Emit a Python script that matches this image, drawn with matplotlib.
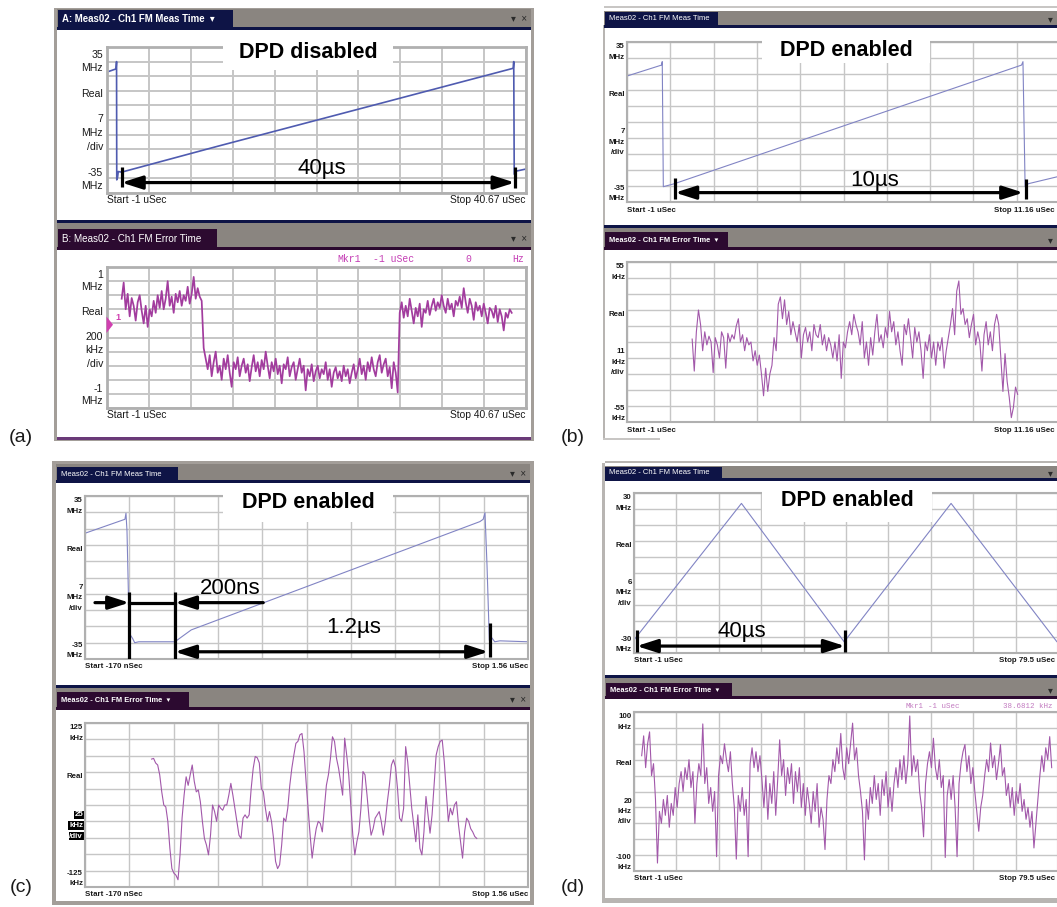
import matplotlib.pyplot as plt
import numpy as np
from matplotlib.patches import Rectangle, Polygon

plt.rcParams['font.family'] = ['Liberation Sans', 'DejaVu Sans']

W, H = 1057, 907

# ---------------- values ----------------
# (a) DPD disabled : FM meas (MHz) and FM error (MHz) vs time (us)
a_meas_t = [-1.0, -0.1, -0.05, -0.03, 0.05, 0.12, 0.45, 10.0, 27.0, 39.4, 39.45, 39.5, 39.7, 40.67]
a_meas_f = [23.0, 24.5, 28.0, -28.7, -27.5, -24.7, -25.0, -12.6, 9.0, 24.8, 28.0, -26.0, -24.5, -23.5]
a_err_start, a_err_stop = 0.46, 39.25
a_err_f = [0.55, 0.78, 0.40, 0.62, 0.30, 0.56, 0.45, 0.24, 0.50, 0.60,
           0.38, 0.20, 0.45, 0.15, 0.40, 0.30, 0.52, 0.35, 0.60, 0.42,
           0.66, 0.40, 0.55, 0.80, 0.45, 0.58, 0.35, 0.62, 0.50, 0.66,
           0.45, 0.60, 0.52, 0.72, 0.48, 0.62, 0.86, 0.55, 0.70, 0.58, 0.52,
           -0.15, -0.30, -0.45, -0.25, -0.55, -0.35, -0.20, -0.50, -0.40, -0.60,
           -0.30, -0.45, -0.25, -0.50, -0.70, -0.35, -0.45, -0.28, -0.55, -0.40,
           -0.30, -0.50, -0.38, -0.62, -0.42, -0.25, -0.48, -0.35, -0.55, -0.32,
           -0.45, -0.20, -0.40, -0.58, -0.35, -0.48, -0.30, -0.52, -0.40, -0.65,
           -0.38, -0.45, -0.28, -0.55, -0.42, -0.35, -0.60, -0.45, -0.30, -0.50,
           -0.40, -0.75, -0.45, -0.55, -0.38, -0.62, -0.48, -0.40, -0.58, -0.45,
           -0.52, -0.35, -0.60, -0.45, -0.70, -0.50, -0.42, -0.58, -0.48, -0.62,
           -0.40, -0.55, -0.45, -0.65, -0.50, -0.38, -0.58, -0.46, -0.30, -0.52,
           -0.40, -0.60, -0.35, -0.48, -0.28, -0.45, -0.55, -0.35, -0.25, -0.50,
           -0.38, -0.30, -0.55, -0.42, -0.72, -0.35, -0.50, -0.78,
           0.35, 0.50, 0.28, 0.45, 0.30, 0.55, 0.38, 0.20, 0.42, 0.30,
           0.48, 0.15, 0.40, 0.35, 0.52, 0.32, 0.45, 0.55, 0.38, 0.50,
           0.42, 0.60, 0.45, 0.35, 0.55, 0.40, 0.48, 0.30, 0.52, 0.45,
           0.58, 0.42, 0.70, 0.50, 0.35, 0.55, 0.45, 0.25, 0.50, 0.38,
           0.45, 0.30, 0.48, 0.35, 0.20, 0.42, 0.38, 0.28, 0.45, 0.22,
           0.40, 0.30, 0.10, 0.35, 0.28, 0.40, 0.35]

# (b) DPD enabled, 10 us ramp : MHz / kHz
b_meas_t = [-1.0, -0.03, -0.01, 0.02, 0.33, 10.08, 10.12, 10.18, 10.27, 11.1]
b_meas_f = [20.1, 24.9, 26.4, -28.3, -27.0, 24.9, 26.4, -28.3, -27.0, -23.9]
b_err_start, b_err_stop = 0.83, 9.97
b_err_f = [2, -20, 7, 22, 12, -6, 7, -2, 4, 0, -21, 3, -2, -11, 7, 3, -18, 6, 0, 5,
           2, 11, 16, 0, 5, -6, 3, -2, 0, -13, -6, -16, -9, -22, -37, -18, -34, -22, -16, 3,
           -6, 26, 31, 16, 29, 12, 21, 5, 14, 7, 0, 12, -11, 5, 10, 0, 7, -6, 12, 5,
           3, 12, -2, 5, -6, 3, -2, -11, 0, -13, 5, -25, 0, -4, 7, 14, 5, 19, 12, 7,
           -2, 14, -11, 0, -16, 3, -9, 7, 19, 0, 5, -4, 10, 3, 21, 7, 14, -2, 7, -6,
           -16, 12, 5, 16, 3, -11, 10, 0, 7, -6, -25, 0, -6, 5, -11, 0, -16, 0, -6, 3,
           -18, -6, 3, 12, 23, 5, 35, 42, 19, 23, 12, 16, 3, 12, 19, -2, 7, 0, -20, 5,
           14, -2, 7, -6, 12, 19, 12, -11, -34, -8, -27, -38, -52, -45, -31, -36]

# (c) DPD enabled, 1.2 us ramp : MHz / kHz
c_meas_t = [-0.17, -0.014, -0.010, -0.006, 0.003, 0.016, 0.024, 0.04, 0.181, 0.245,
            1.372, 1.385, 1.392, 1.400, 1.409, 1.418, 1.43, 1.45, 1.56]
c_meas_f = [19.0, 25.0, 27.6, 20.0, -24.0, -26.2, -28.0, -27.6, -27.6, -22.5,
            24.0, 25.0, 27.8, 5.0, -27.0, -25.8, -27.6, -27.2, -27.6]
c_err_start, c_err_stop = 0.09, 1.36
c_err_f = [70, 71, 64, 61, 46, 20, 0, -3, -25, -66, -97, -104, -107, -114, -76, -20, 15, 43, 30, 46,
           61, 36, 20, 23, 5, -25, -51, -61, -76, -46, 0, -10, -25, 0, -5, -8, 0, 0, 15, 33,
           15, -5, -25, -46, -51, -20, -15, -20, -15, 25, 56, 74, 72, 64, 25, 20, -5, -25, -10, -25,
           -51, -86, -97, -91, -61, -20, -25, -5, 30, 56, 76, 94, 97, 107, 109, 81, 36, -5, -46, -81,
           -56, -36, -25, -28, -41, -5, 30, 46, 71, 104, 97, 71, 56, 36, 15, 102, 76, 46, 0, -46,
           -76, -56, -41, -5, 51, 46, 15, -20, -46, -36, -20, -15, -10, -25, -46, -25, 5, 30, 61, 69,
           58, 25, -20, -25, -5, 89, 66, 30, -5, -30, -56, -15, -66, -76, -41, 13, -15, -43, -15, 30,
           76, 89, 97, 99, 66, 20, -25, -5, -15, 0, 5, -30, -56, -81, -41, -20, -25, -36, -41, -48, -51]

# (d) DPD enabled, triangle 40 us : MHz / kHz
d_meas_t = [-1.0, 19.4, 38.9, 59.2, 79.3, 79.5]
d_meas_f = [-25.1, 26.1, -25.8, 26.1, -25.8, -25.3]
d_err_start, d_err_stop = 0.46, 78.3
d_err_f = [45, 70, 30, 60, 75, 20, 35, -10, -90, -25, -40, -10, -30, -5, -45, -15, -30, 5, -20, 10,
           25, 0, 30, 15, 40, 5, 25, -40, 10, 35, 20, 85, 10, 30, -15, 5, -25, 0, -82, 20,
           45, 35, 60, 40, 25, 50, 10, -20, -85, -5, -25, 5, -30, -10, -82, 35, 55, 30, 50, 25,
           45, 15, -20, 20, -35, 10, -15, 25, -30, 15, 65, 20, 40, -5, 30, 10, 35, -15, 25, 0,
           30, -20, 10, -30, 5, -15, -40, 0, -25, 10, -45, -20, -35, -73, -10, 20, 10, 40, 25, 55,
           35, 73, 30, 15, 55, 35, 60, 86, 40, 55, 20, 0, -25, -86, -10, -35, 5, -15, 20, -10,
           10, -30, 15, -5, 25, -20, 5, -25, 10, 30, 5, 40, 15, 45, 10, 35, 95, 20, 45, 25,
           40, 0, -20, -57, 10, 35, 50, 30, 67, 30, 15, 40, 5, 20, -83, -5, 15, -10, 20, -20,
           -82, 10, 35, 50, 59, 25, 45, 10, 30, 0, -25, -50, -20, -5, 20, 40, 25, 61, 30, 45,
           15, 35, 59, 20, 30, -5, 10, -20, 5, -30, 0, -15, 10, -25, -10, -35, -20, -45, -25, -71,
           -40, -10, 20, 45, 25, 55, 40, 69, 30]

# ---------------- styling ----------------
BAR = '#8a8580'
FRAME = '#a39e99'
NAVY = '#0e1446'
PURP = '#2c0a30'
GRID = '#c6c6c6'
SPINE = '#b0b0b0'
MEAS_A = '#4f5bb0'
MEAS = '#8184c4'
ERR_A = '#a23c9e'
ERR = '#a258aa'
MKR = '#c43cb4'

LAB_BIG = [0.055, 0.145, 0.32, 0.495, 0.59, 0.685, 0.865, 0.95]
LAB_SMALL = [0.03, 0.095, 0.327, 0.56, 0.625, 0.69, 0.915, 0.978]

fig = plt.figure(figsize=(W / 100, H / 100), dpi=100)
bg = fig.add_axes([0, 0, 1, 1])
bg.set_xlim(0, W)
bg.set_ylim(H, 0)
bg.axis('off')


def rect(x0, y0, x1, y1, c, ax=bg, z=1):
    ax.add_patch(Rectangle((x0, y0), x1 - x0, y1 - y0, fc=c, ec='none', zorder=z))


def frac(x0, y0, x1, y1):
    return [x0 / W, 1 - y1 / H, (x1 - x0) / W, (y1 - y0) / H]


def bar(x0, x1, y0, y1, tx0, tx1, ty0, col, label, size, weight, clipx=None, close='▾  ×'):
    rect(x0, y0, x1, y1, BAR)
    rect(tx0, ty0, tx1, y1, col, z=2)
    rect(x0, y1, x1, y1 + 2.5, col, z=2)
    t = bg.text(tx0 + 4, (ty0 + y1) / 2 + 0.5, label, color='white', fontsize=size,
                weight=weight, va='center', ha='left', zorder=3)
    if clipx is not None:
        t.set_clip_path(Rectangle((clipx, 0), W, H, transform=bg.transData))
    bg.text(min(x1, W) - 4, (ty0 + y1) / 2 + 0.5, close, color='#2a2a2a', fontsize=7,
            va='center', ha='right', zorder=3)


def scope(px, xlim, ylim, ylab, start, stop, big, hl=False):
    x0, y0, x1, y1 = px
    ax = fig.add_axes(frac(*px))
    ax.set_xlim(*xlim)
    ax.set_ylim(*ylim)
    ax.set_xticks(np.linspace(xlim[0], xlim[1], 11))
    ax.set_yticks(np.linspace(ylim[0], ylim[1], 11))
    ax.grid(True, color=GRID, lw=1.4 if big else 1.0)
    ax.tick_params(length=0, labelbottom=False, labelleft=False)
    for s in ax.spines.values():
        s.set_color(SPINE)
        s.set_linewidth(2.0 if big else 1.5)
    fr = LAB_BIG if big else LAB_SMALL
    fs = 7.6 if big else 5.7
    wt = 'normal' if big else 'bold'
    lines = [ylab[0], ylab[1], 'Real', ylab[2], ylab[3], '/div', ylab[4], ylab[5]]
    lx = x0 - (4 if big else 2)
    for i, (f, s) in enumerate(zip(fr, lines)):
        t = bg.text(lx, y0 + f * (y1 - y0), s, ha='right', va='center', fontsize=fs,
                    weight=wt, color='#1a1a1a')
        if hl and i in (3, 4, 5):
            t.set_color('white')
            t.set_bbox(dict(fc='black', ec='none', pad=0.4))
    sy = y1 + (7 if big else 8)
    sfs = 7.4 if big else 5.7
    bg.text(x0, sy, start, ha='left', va='center', fontsize=sfs, weight=wt, color='#1a1a1a')
    bg.text(min(x1, W - 2), sy, stop, ha='right', va='center', fontsize=sfs, weight=wt,
            color='#1a1a1a')
    return ax


def span(ax, t0, t1, y, bars, label, tx, ty):
    ax.annotate('', xy=(t1, y), xytext=(t0, y),
                arrowprops=dict(arrowstyle='<|-|>,head_length=1.25,head_width=0.4',
                                color='black', lw=2.3, shrinkA=0, shrinkB=0,
                                mutation_scale=10), annotation_clip=False)
    for bt, ya, yb in bars:
        ax.plot([bt, bt], [ya, yb], color='black', lw=2.3, solid_capstyle='butt', zorder=5)
    ax.text(tx, ty, label, ha='center', va='center', fontsize=16, color='black', zorder=6)


# ---------------- window chrome ----------------
# (a)
rect(54, 8, 534, 441, FRAME)
rect(57, 27, 531, 438, 'white')
rect(57, 437, 531, 440, '#6a3a78')
bar(57, 531, 9, 27, 58, 233, 10, NAVY, 'A: Meas02 - Ch1 FM Meas Time  ▾', 6.9, 'bold')
rect(57, 220, 531, 223, NAVY)
bar(57, 531, 223, 247, 58, 217, 229, PURP, 'B: Meas02 - Ch1 FM Error Time', 7.1, 'normal')

# (b)
rect(604, 6, W, 7.5, '#c8c6c4')
rect(603, 25, 605, 440, '#b8b5b2')
bar(604, W + 10, 11, 25, 605, 718, 12, NAVY, 'Meas02 - Ch1 FM Meas Time', 5.5, 'normal',
    clipx=605, close='▾')
rect(604, 225, W, 228, NAVY)
bar(604, W + 10, 228, 247, 605, 728, 232, PURP, 'Meas02 - Ch1 FM Error Time  ▾', 5.4, 'bold',
    clipx=605, close='▾')
rect(603, 438, 660, 440, '#c8c6c4')

# (c)
rect(52, 461, 534, 905, FRAME)
rect(56, 480, 530, 901, 'white')
bar(56, 530, 464, 480, 57, 178, 467, NAVY, 'Meas02 - Ch1 FM Meas Time', 5.5, 'normal')
rect(56, 685, 530, 688, NAVY)
bar(56, 530, 688, 707, 57, 189, 692, PURP, 'Meas02 - Ch1 FM Error Time  ▾', 5.4, 'bold')

# (d)
rect(605, 461, W, 463, '#b8b5b2')
rect(602, 463, 605, 903, '#b8b5b2')
rect(602, 898, W, 903, '#b8b5b2')
bar(605, W + 10, 466, 478, 605, 722, 467, NAVY, 'Meas02 - Ch1 FM Meas Time', 5.5, 'normal',
    close='▾')
rect(605, 675, W, 678, NAVY)
bar(605, W + 10, 678, 696, 606, 732, 683, PURP, 'Meas02 - Ch1 FM Error Time  ▾', 5.4, 'bold',
    close='▾')

# marker read-outs
for x, s in [(337, 'Mkr1'), (373, '-1 uSec'), (465, '0'), (512, 'Hz')]:
    bg.text(x, 259, s, family='Liberation Mono', fontsize=7, color=MKR, va='center')
for x, s in [(905, 'Mkr1'), (928, '-1 uSec'), (1003, '38.6812 kHz')]:
    bg.text(x, 707, s, family='Liberation Mono', fontsize=5.4, color='#c27ac0', va='center')

# panel letters
for x, y, s in [(21, 437, '(a)'), (573, 437, '(b)'), (21, 887, '(c)'), (573, 887, '(d)')]:
    bg.text(x, y, s, fontsize=14, ha='center', va='center', color='#1a1a1a')

# ---------------- scope traces ----------------
ax = scope((107, 47, 526, 193), (-1, 40.67), (-35, 35), ('35', 'MHz', '7', 'MHz', '-35', 'MHz'),
           'Start -1 uSec', 'Stop 40.67 uSec', True)
ax.plot(a_meas_t, a_meas_f, color=MEAS_A, lw=1.2)
span(ax, 0.45, 39.55, -30.0, [(0.45, -22.3, -32.2), (39.55, -22.3, -32.5)], '40µs', 20.35, -23.1)

ax = scope((107, 267, 526, 408), (-1, 40.67), (-1, 1), ('1', 'MHz', '200', 'kHz', '-1', 'MHz'),
           'Start -1 uSec', 'Stop 40.67 uSec', True)
ax.plot(np.linspace(a_err_start, a_err_stop, len(a_err_f)), a_err_f, color=ERR_A, lw=1.25)

ax = scope((627, 42, 1060, 202), (-1, 11.16), (-35, 35), ('35', 'MHz', '7', 'MHz', '-35', 'MHz'),
           'Start -1 uSec', 'Stop 11.16 uSec', False)
ax.plot(b_meas_t, b_meas_f, color=MEAS, lw=0.8)
span(ax, 0.35, 10.13, -30.9, [(0.35, -24.6, -33.8), (10.2, -25.0, -33.8)], '10µs', 5.96, -25.4)

ax = scope((627, 262, 1060, 422), (-1, 11.16), (-55, 55), ('55', 'kHz', '11', 'kHz', '-55', 'kHz'),
           'Start -1 uSec', 'Stop 11.16 uSec', False)
ax.plot(np.linspace(b_err_start, b_err_stop, len(b_err_f)), b_err_f, color=ERR, lw=0.8)

ax = scope((85, 496, 528, 659), (-0.17, 1.56), (-35, 35), ('35', 'MHz', '7', 'MHz', '-35', 'MHz'),
           'Start -170 nSec', 'Stop 1.56 uSec', False)
ax.plot(c_meas_t, c_meas_f, color=MEAS, lw=0.8)
for bt in (0.003, 0.181):
    ax.plot([bt, bt], [-6.1, -35], color='black', lw=2.3, solid_capstyle='butt', zorder=5)
ax.annotate('', xy=(0.003, -10.8), xytext=(-0.131, -10.8),
            arrowprops=dict(arrowstyle='-|>,head_length=1.25,head_width=0.4', color='black',
                            lw=2.3, shrinkA=0, shrinkB=0, mutation_scale=10))
ax.plot([0.003, 0.181], [-10.8, -10.8], color='black', lw=2.3, zorder=5)
ax.annotate('', xy=(0.181, -10.8), xytext=(0.526, -10.8),
            arrowprops=dict(arrowstyle='-|>,head_length=1.25,head_width=0.4', color='black',
                            lw=2.3, shrinkA=0, shrinkB=0, mutation_scale=10))
ax.text(0.396, -4.6, '200ns', ha='center', va='center', fontsize=16, zorder=6)
span(ax, 0.181, 1.405, -31.9, [(1.41, -19.7, -34.0)], '1.2µs', 0.878, -21.4)

ax = scope((85, 723, 528, 887), (-0.17, 1.56), (-125, 125), ('125', 'kHz', '25', 'kHz', '-125', 'kHz'),
           'Start -170 nSec', 'Stop 1.56 uSec', False, hl=True)
ax.plot(np.linspace(c_err_start, c_err_stop, len(c_err_f)), c_err_f, color=ERR, lw=0.8)

ax = scope((634, 493, 1058, 653), (-1, 79.5), (-30, 30), ('30', 'MHz', '6', 'MHz', '-30', 'MHz'),
           'Start -1 uSec', 'Stop 79.5 uSec', False)
ax.plot(d_meas_t, d_meas_f, color=MEAS, lw=0.8)
span(ax, -0.49, 39.06, -27.4, [(-0.49, -21.4, -29.5), (39.06, -21.4, -29.8)], '40µs', 19.45, -22.0)

ax = scope((634, 712, 1058, 871), (-1, 79.5), (-100, 100), ('100', 'kHz', '20', 'kHz', '-100', 'kHz'),
           'Start -1 uSec', 'Stop 79.5 uSec', False)
ax.plot(np.linspace(d_err_start, d_err_stop, len(d_err_f)), d_err_f, color=ERR, lw=0.8)

# ---------------- overlay: title boxes, marker flag ----------------
top = fig.add_axes([0, 0, 1, 1])
top.set_xlim(0, W)
top.set_ylim(H, 0)
top.axis('off')
top.patch.set_alpha(0)
for x0, y0, x1, y1, s in [(223, 43, 393, 70, 'DPD disabled'), (762, 40, 930, 63, 'DPD enabled'),
                          (223, 492, 393, 522, 'DPD enabled'), (762, 490, 932, 522, 'DPD enabled')]:
    rect(x0, y0, x1, y1, 'white', ax=top)
    top.text((x0 + x1) / 2, y0 + 10, s, ha='center', va='center', fontsize=15.5,
             weight='bold', color='black', zorder=3)
top.add_patch(Polygon([(106.5, 316.5), (106.5, 333), (113, 324.7)], closed=True, fc='#d040b0',
                      ec='none', zorder=3))
top.text(115, 318, '1', color='#d040b0', fontsize=6.5, weight='bold', va='center', zorder=3)

fig.savefig('out.png', dpi=100)
